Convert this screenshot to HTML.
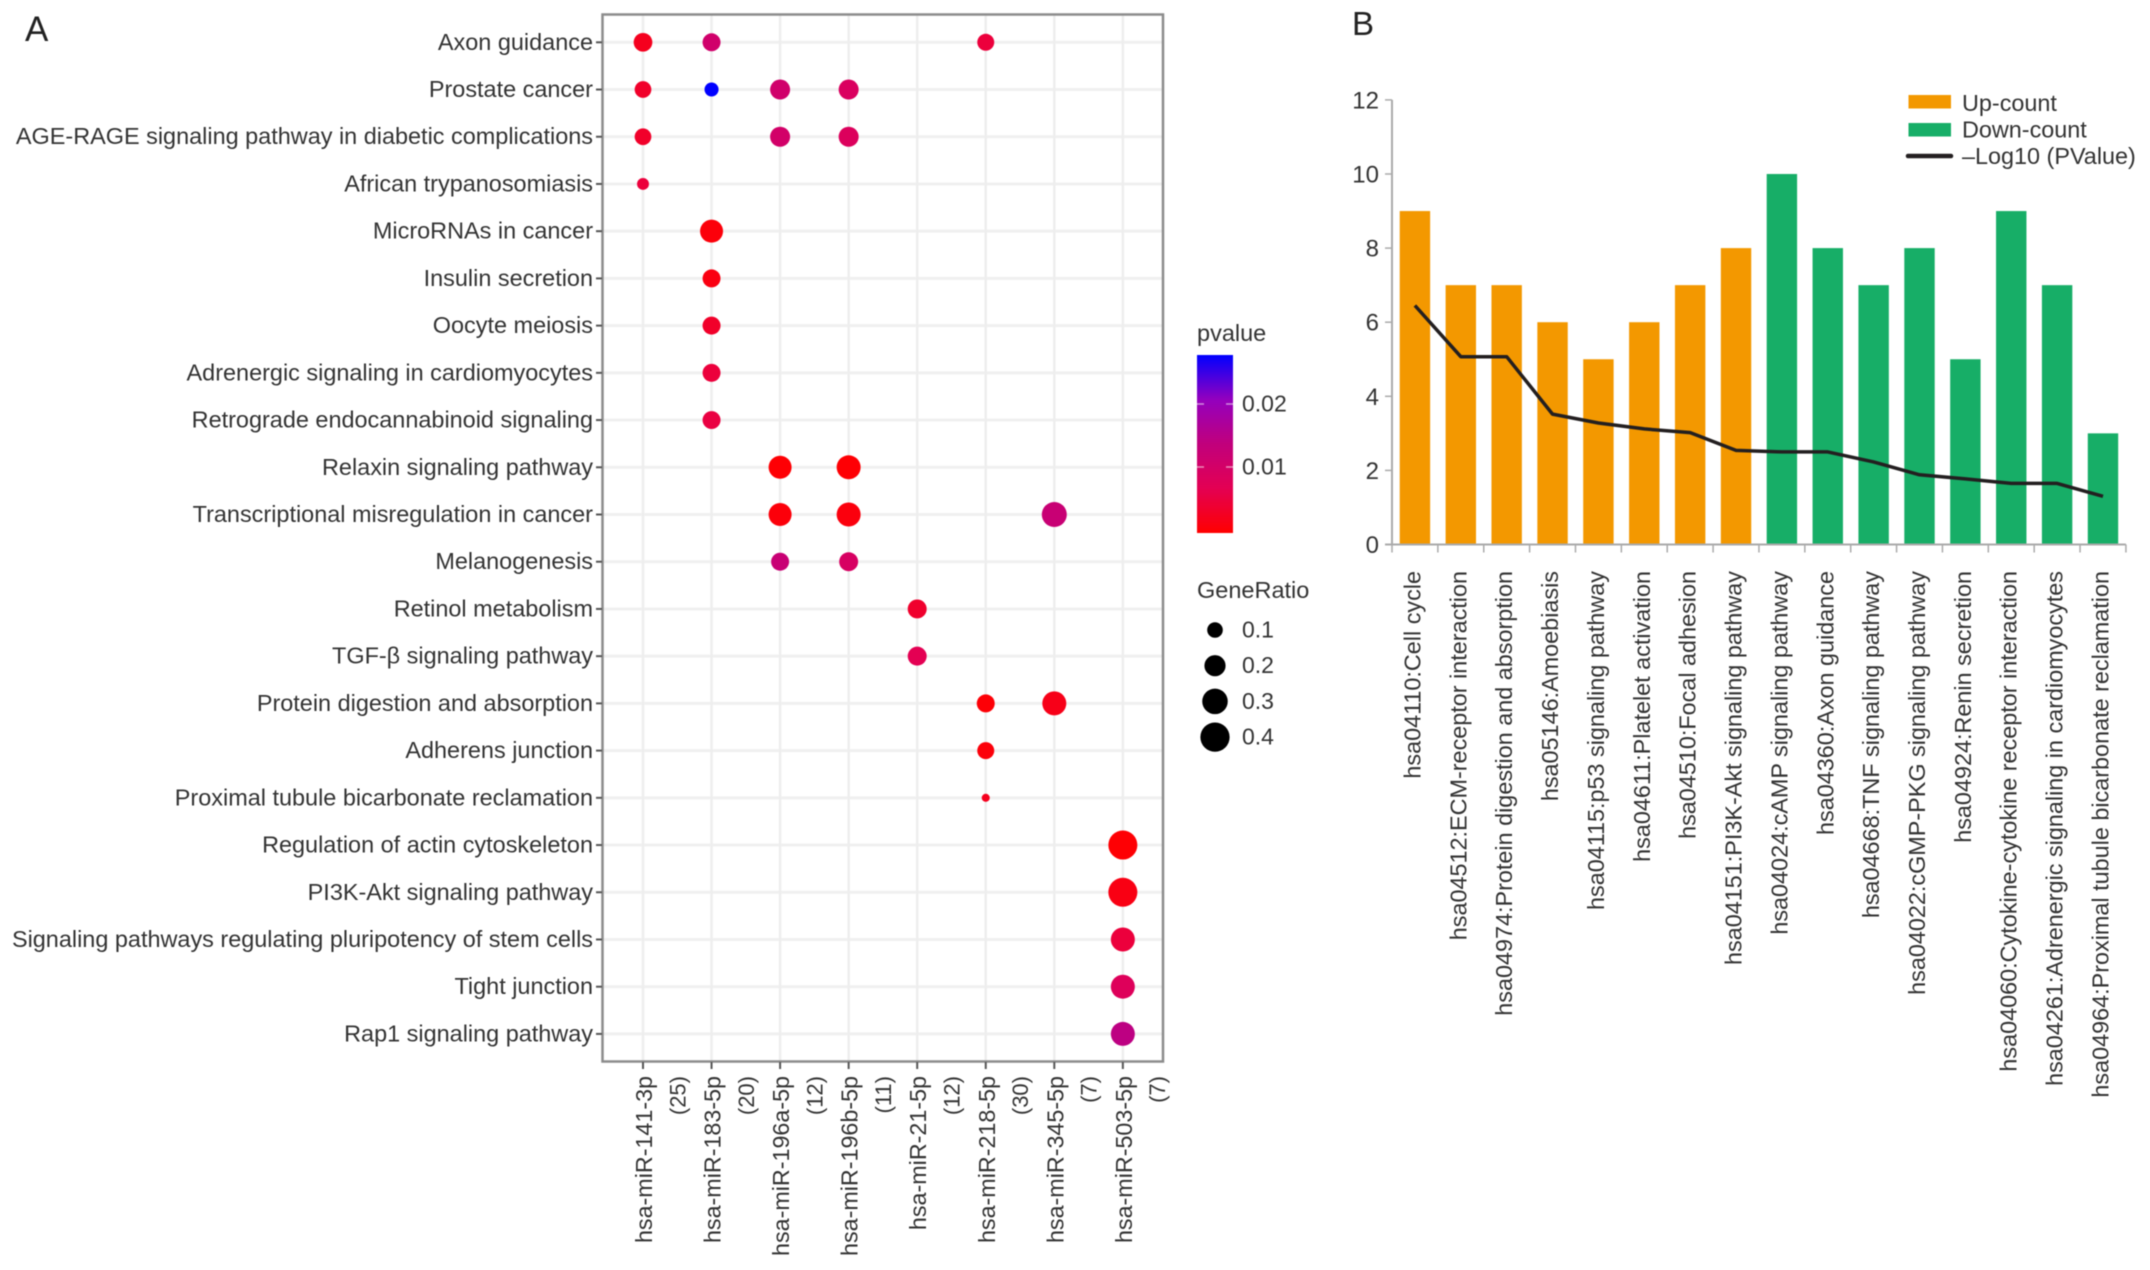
<!DOCTYPE html>
<html lang="en">
<head>
<meta charset="utf-8">
<title>miRNA pathway enrichment charts</title>
<style>
html,body{margin:0;padding:0;background:#fff;width:2150px;height:1270px;overflow:hidden}
svg{display:block;font-family:"Liberation Sans",Arial,sans-serif;filter:blur(0.5px)}
</style>
</head>
<body>
<svg id="figure" xmlns="http://www.w3.org/2000/svg" width="2150" height="1270" viewBox="0 0 2150 1270">
  <defs>
    <linearGradient id="pvalue-gradient" x1="0" y1="1" x2="0" y2="0"></linearGradient>
  </defs>
  <rect x="0" y="0" width="2150" height="1270" fill="#ffffff"/>
  <text x="25" y="41" font-size="35" fill="#222">A</text>
  <text x="1352" y="35" font-size="33" fill="#222">B</text>
  <g id="panel-a"></g>
  <g id="legend-a">
    <text x="1197" y="341" font-size="23.5" fill="#333">pvalue</text>
    <rect x="1197" y="355" width="36" height="178" fill="url(#pvalue-gradient)"/>
    <text x="1197" y="598" font-size="23.5" fill="#333">GeneRatio</text>
  </g>
  <g id="panel-b"></g>
</svg>
<script>
// ---------- Panel A data ----------
const pathways = ["Axon guidance","Prostate cancer","AGE-RAGE signaling pathway in diabetic complications","African trypanosomiasis","MicroRNAs in cancer","Insulin secretion","Oocyte meiosis","Adrenergic signaling in cardiomyocytes","Retrograde endocannabinoid signaling","Relaxin signaling pathway","Transcriptional misregulation in cancer","Melanogenesis","Retinol metabolism","TGF-β signaling pathway","Protein digestion and absorption","Adherens junction","Proximal tubule bicarbonate reclamation","Regulation of actin cytoskeleton","PI3K-Akt signaling pathway","Signaling pathways regulating pluripotency of stem cells","Tight junction","Rap1 signaling pathway"];
const mirnas = ["hsa-miR-141-3p","hsa-miR-183-5p","hsa-miR-196a-5p","hsa-miR-196b-5p","hsa-miR-21-5p","hsa-miR-218-5p","hsa-miR-345-5p","hsa-miR-503-5p"];
const mirnaCounts = ["(25)","(20)","(12)","(11)","(12)","(30)","(7)","(7)"];
const dotPathway = [0,0,0,1,1,1,1,2,2,2,3,4,5,6,7,8,9,9,10,10,10,11,11,12,13,14,14,15,16,17,18,19,20,21];
const dotMirna   = [0,1,5,0,1,2,3,0,2,3,0,1,1,1,1,1,2,3,2,3,6,2,3,4,4,5,6,5,5,7,7,7,7,7];
const dotPvalue  = [0.0025,0.0110,0.0050,0.0035,0.0278,0.0110,0.0090,0.0035,0.0105,0.0085,0.0050,0.0008,0.0014,0.0035,0.0050,0.0055,0.0003,0.0003,0.0008,0.0011,0.0125,0.0125,0.0095,0.0038,0.0070,0.0005,0.0020,0.0008,0.0025,0.0003,0.0016,0.0050,0.0082,0.0145];
const dotRatio   = [0.152,0.139,0.122,0.117,0.077,0.177,0.177,0.117,0.177,0.177,0.050,0.240,0.139,0.139,0.139,0.139,0.240,0.263,0.240,0.263,0.287,0.139,0.157,0.157,0.157,0.139,0.263,0.122,0.012,0.393,0.393,0.263,0.263,0.263];
const pvalueTicks = [0.01,0.02];
const ratioTicks = [0.1,0.2,0.3,0.4];
// ---------- Panel B data ----------
const terms = ["hsa04110:Cell cycle","hsa04512:ECM-receptor interaction","hsa04974:Protein digestion and absorption","hsa05146:Amoebiasis","hsa04115:p53 signaling pathway","hsa04611:Platelet activation","hsa04510:Focal adhesion","hsa04151:PI3K-Akt signaling pathway","hsa04024:cAMP signaling pathway","hsa04360:Axon guidance","hsa04668:TNF signaling pathway","hsa04022:cGMP-PKG signaling pathway","hsa04924:Renin secretion","hsa04060:Cytokine-cytokine receptor interaction","hsa04261:Adrenergic signaling in cardiomyocytes","hsa04964:Proximal tubule bicarbonate reclamation"];
const counts = [9,7,7,6,5,6,7,8,10,8,7,8,5,9,7,3];
const directions = ["up","up","up","up","up","up","up","up","down","down","down","down","down","down","down","down"];
const logP = [6.45,5.07,5.07,3.52,3.28,3.12,3.02,2.54,2.5,2.5,2.23,1.88,1.77,1.65,1.65,1.3];
const yTicksB = [0,2,4,6,8,10,12];
const legendLabels = ["Up-count","Down-count","–Log10 (PValue)"];

const NS = "http://www.w3.org/2000/svg";
function mk(tag, attrs, parent){
  const el = document.createElementNS(NS, tag);
  for (const k in attrs) el.setAttribute(k, attrs[k]);
  parent.appendChild(el);
  return el;
}
function slug(s){ return s.toLowerCase().replace(/[^a-z0-9]+/g,'-').replace(/^-|-$/g,''); }

// Panel A scales
const xA = i => 643 + 68.55 * i;
const xAHalf = i => xA(i) + 34.27;
const yA = i => 42.3 + 47.22 * i;
const sizeA = r => Math.sqrt(40 + 2040 * r);
const PMAX = 0.0278;
const rampStops = [[255,0,0],[228,0,83],[193,0,124],[148,0,190],[0,0,255]];
function colorOf(p){
  const t = Math.max(0, Math.min(1, p / PMAX)) * (rampStops.length - 1);
  const i = Math.min(rampStops.length - 2, Math.floor(t));
  const f = t - i;
  const c = rampStops[i].map((v, k) => Math.round(v + (rampStops[i+1][k] - v) * f));
  return "rgb(" + c.join(",") + ")";
}
const yColor = p => 467 - (p - 0.01) * 6300;

// Panel A drawing
const A = document.getElementById("panel-a");
pathways.forEach((name, i) => {
  const g = mk("line", {x1:603,x2:1163,y1:yA(i),y2:yA(i),stroke:"#f0f0f0","stroke-width":3}, A);
  
  
});
mirnas.forEach((name, i) => {
  const g = mk("line", {x1:xA(i),x2:xA(i),y1:15,y2:1061,stroke:"#eeeeee","stroke-width":2.5}, A);
  
  
});
const frame = mk("rect", {x:602.5,y:14.5,width:560.5,height:1047,fill:"none",stroke:"#8c8c8c","stroke-width":2.5}, A);


pathways.forEach((name, i) => {
  const t = mk("line", {x1:596,x2:602,y1:yA(i),y2:yA(i),stroke:"#555","stroke-width":2}, A);
  
  
  const l = mk("text", {x:593,y:yA(i)+7.5,"text-anchor":"end","font-size":23.45,fill:"#333"}, A);
  l.textContent = name;
  
  
});
mirnas.forEach((name, i) => {
  const t = mk("line", {x1:xA(i),x2:xA(i),y1:1062,y2:1069,stroke:"#555","stroke-width":2}, A);
  
  
  const l = mk("text", {x:0,y:0,"text-anchor":"end","font-size":23.3,fill:"#333",transform:"translate("+(xA(i)+9)+",1076) rotate(-90)"}, A);
  l.textContent = name;
  
  
  const c = mk("text", {x:0,y:0,"text-anchor":"end","font-size":22,fill:"#333",transform:"translate("+(xAHalf(i)+8)+",1076) rotate(-90)"}, A);
  c.textContent = mirnaCounts[i];
  
  
});
dotPathway.forEach((row, k) => {
  const d = mk("circle", {cx:xA(dotMirna[k]),cy:yA(row),r:sizeA(dotRatio[k])/2,fill:colorOf(dotPvalue[k])}, A);
  
  
});

// Legend A
const grad = document.getElementById("pvalue-gradient");
for (let i = 0; i <= 20; i++) {
  mk("stop", {offset:(i*5)+"%","stop-color":colorOf(PMAX*i/20)}, grad);
}
const LA = document.getElementById("legend-a");
pvalueTicks.forEach(p => {
  const y = yColor(p);
  const t1 = mk("line", {x1:1197,x2:1204,y1:y,y2:y,stroke:"#fff","stroke-opacity":0.55,"stroke-width":1.5}, LA);
  
  
  const t2 = mk("line", {x1:1226,x2:1233,y1:y,y2:y,stroke:"#fff","stroke-opacity":0.55,"stroke-width":1.5}, LA);
  
  
  const l = mk("text", {x:1242,y:y+7.5,"font-size":23,fill:"#333"}, LA);
  l.textContent = String(p);
  
  
});
ratioTicks.forEach((r, i) => {
  const y = 630 + 35.7 * i;
  const c = mk("circle", {cx:1215,cy:y,r:sizeA(r)/2,fill:"#000"}, LA);
  
  
  const l = mk("text", {x:1242,y:y+7.5,"font-size":23,fill:"#333"}, LA);
  l.textContent = String(r);
  
  
});

// Panel B scales
const X0B = 1392, BANDB = 45.87;
const xB = i => X0B + BANDB * (i + 0.5);
const yB = v => 544.5 - 37.05 * v;

// Panel B drawing
const B = document.getElementById("panel-b");
counts.forEach((v, i) => {
  const b = mk("rect", {x:xB(i)-15.2,y:yB(v),width:30.4,height:yB(0)-yB(v),fill:directions[i]==="up"?"#f39800":"#17ae67"}, B);
  
  
});
const yAxisB = mk("line", {x1:X0B,x2:X0B,y1:yB(12),y2:yB(0),stroke:"#aaa","stroke-width":2}, B);


const xAxisB = mk("line", {x1:X0B-7,x2:X0B+BANDB*terms.length,y1:yB(0),y2:yB(0),stroke:"#aaa","stroke-width":2}, B);


yTicksB.forEach(v => {
  const t = mk("line", {x1:X0B-7,x2:X0B,y1:yB(v),y2:yB(v),stroke:"#aaa","stroke-width":1.5}, B);
  
  
  const l = mk("text", {x:1379,y:yB(v)+8.5,"text-anchor":"end","font-size":24,fill:"#333"}, B);
  l.textContent = String(v);
  
  
});
for (let i = 0; i <= terms.length; i++) {
  const x = X0B + BANDB * i;
  const t = mk("line", {x1:x,x2:x,y1:yB(0),y2:yB(0)+8,stroke:"#aaa","stroke-width":1.5}, B);
  
  
}
terms.forEach((name, i) => {
  const l = mk("text", {x:0,y:0,"text-anchor":"end","font-size":23.4,fill:"#333",transform:"translate("+(xB(i)+5.5)+",571) rotate(-90)"}, B);
  l.textContent = name;
  
  
});
const linePts = logP.map((v, i) => xB(i).toFixed(1) + "," + yB(v).toFixed(1)).join(" ");
const pl = mk("polyline", {points:linePts,fill:"none",stroke:"#231f20","stroke-width":3.5,"stroke-linejoin":"round"}, B);



// Legend B
const sw1 = mk("rect", {x:1908.5,y:95,width:42.5,height:13.5,fill:"#f39800"}, B);


const sw2 = mk("rect", {x:1908.5,y:123,width:42.5,height:13.5,fill:"#17ae67"}, B);


const sw3 = mk("line", {x1:1908,x2:1951,y1:156,y2:156,stroke:"#231f20","stroke-width":4.5,"stroke-linecap":"round"}, B);


legendLabels.forEach((name, i) => {
  const l = mk("text", {x:1962,y:111 + 26.5*i,"font-size":23.4,fill:"#333"}, B);
  l.textContent = name;
  
  
});
</script>
</body>
</html>
